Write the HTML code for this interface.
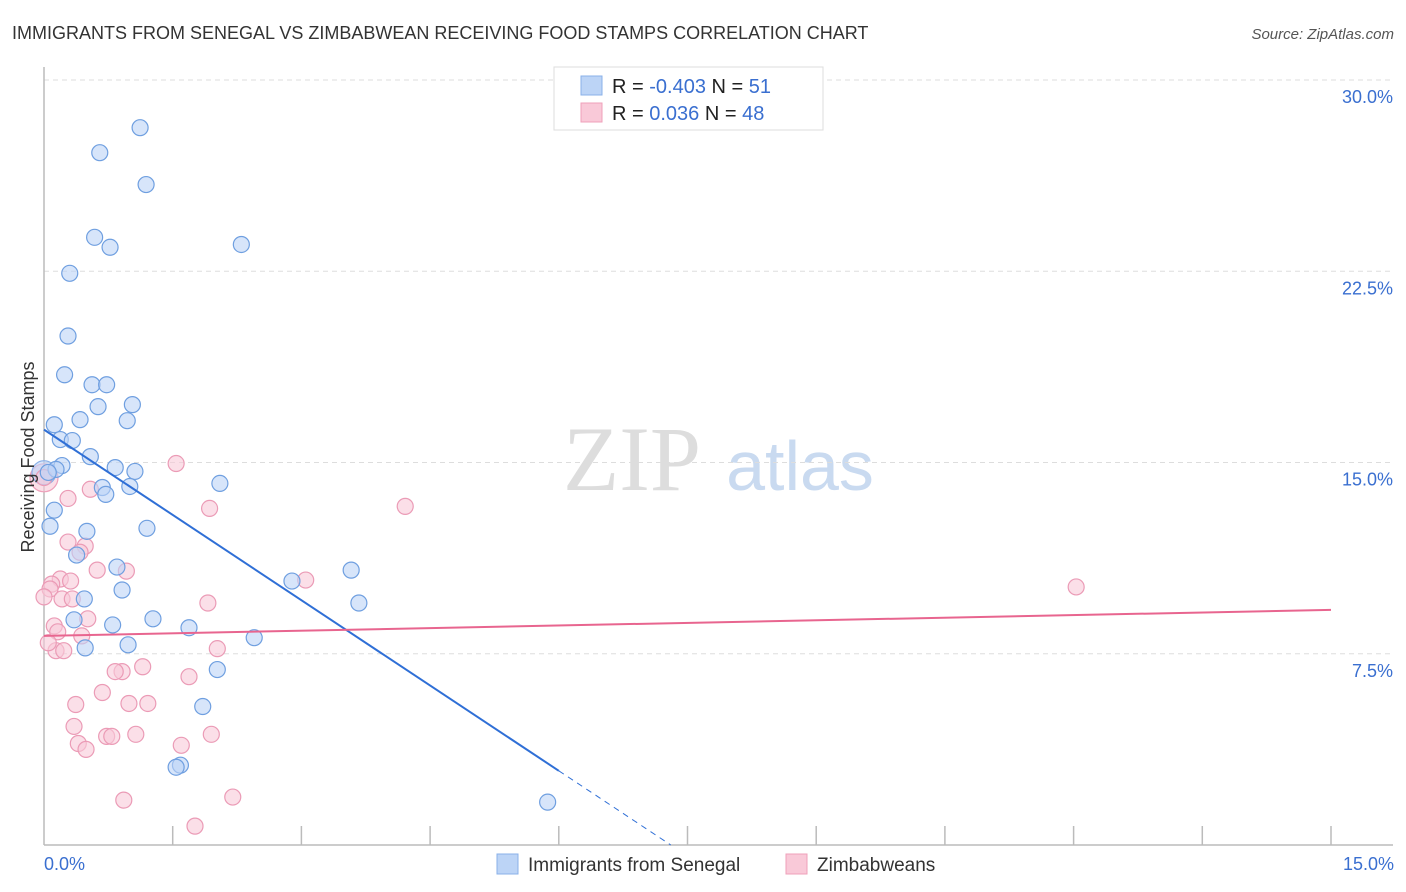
<!DOCTYPE html>
<html><head><meta charset="utf-8">
<style>
body{margin:0;background:#fff;font-family:"Liberation Sans",sans-serif;}
svg{display:block}
</style></head>
<body>
<svg id="chart" width="1406" height="892" viewBox="0 0 1406 892" xmlns="http://www.w3.org/2000/svg">
<text x="12" y="39" font-size="18" fill="#333">IMMIGRANTS FROM SENEGAL VS ZIMBABWEAN RECEIVING FOOD STAMPS CORRELATION CHART</text>
<text x="1394" y="39" font-size="15" fill="#555" font-style="italic" text-anchor="end">Source: ZipAtlas.com</text>
<g>
<text x="632" y="490" font-size="92" fill="#ddd" font-family="Liberation Serif,serif" text-anchor="middle">ZIP</text>
<text x="800" y="490" font-size="70" fill="#c9daf0" text-anchor="middle">atlas</text>
</g>
<g id="grid"></g>
<g id="axes"></g>
<g id="points"></g>
<g id="lines"></g>
<text transform="translate(34,457) rotate(-90)" font-size="18" fill="#333" text-anchor="middle">Receiving Food Stamps</text>
<g>
<rect x="554" y="67" width="269" height="63" fill="#fff" stroke="#ddd"/>
<rect x="581" y="76" width="21" height="19" fill="#bcd4f6" stroke="#8ab0e8"/>
<rect x="581" y="103" width="21" height="19" fill="#f9c9d8" stroke="#efa0ba"/>
<text x="612" y="93" font-size="20" fill="#222">R = <tspan fill="#3a6fd0">-0.403</tspan>   N = <tspan fill="#3a6fd0"> 51</tspan></text>
<text x="612" y="120" font-size="20" fill="#222">R = <tspan fill="#3a6fd0">  0.036</tspan>   N = <tspan fill="#3a6fd0">48</tspan></text>
</g>
<g>
<rect x="497" y="854" width="21" height="20" fill="#bcd4f6" stroke="#8ab0e8"/>
<text x="528" y="871" font-size="19" fill="#333">Immigrants from Senegal</text>
<rect x="786" y="854" width="21" height="20" fill="#f9c9d8" stroke="#efa0ba"/>
<text x="817" y="871" font-size="19" fill="#333">Zimbabweans</text>
</g>
</svg>
<script>
const yTicks=[7.5,15,22.5,30];
const yTickLabels=["7.5%","15.0%","22.5%","30.0%"];
const xTickCount=10;
const xLabels=["0.0%","15.0%"];
const blueX=[1.12,0.65,1.19,0.59,0.77,2.30,0.30,0.28,0.24,0.56,0.73,0.63,1.03,0.12,0.42,0.97,0.19,0.33,0.54,0.21,0.14,0.83,1.06,0.05,0.68,1.00,0.72,2.05,0.12,0.07,0.50,1.20,0.38,0.85,2.89,3.58,0.91,0.47,1.27,0.35,3.67,0.80,1.69,2.45,0.48,0.98,2.02,1.85,1.59,1.54,5.87];
const blueY=[28.13,27.15,25.90,23.83,23.44,23.55,22.42,19.96,18.44,18.05,18.05,17.19,17.27,16.48,16.68,16.64,15.90,15.86,15.23,14.88,14.73,14.80,14.65,14.61,14.02,14.06,13.75,14.18,13.13,12.50,12.30,12.42,11.37,10.90,10.35,10.78,10.00,9.65,8.87,8.83,9.49,8.63,8.52,8.13,7.73,7.85,6.88,5.43,3.13,3.05,1.68];
const pinkX=[1.54,4.21,12.03,0.28,0.54,1.93,0.28,0.48,0.42,0.62,0.96,0.19,0.31,0.09,0.07,3.05,0.21,0.33,1.91,0.51,0.12,0.16,0.44,0.14,0.23,2.02,0.91,0.83,1.15,1.69,0.68,0.37,0.99,1.21,0.35,0.40,0.49,0.73,0.79,1.07,1.60,1.95,0.93,2.20,1.76,0.00,0.00,0.05];
const pinkY=[14.96,13.28,10.12,13.59,13.95,13.20,11.88,11.72,11.48,10.78,10.74,10.43,10.35,10.23,10.04,10.39,9.65,9.65,9.49,8.87,8.59,8.36,8.20,7.62,7.62,7.70,6.80,6.80,6.99,6.60,5.98,5.51,5.55,5.55,4.65,3.98,3.75,4.26,4.26,4.34,3.91,4.34,1.76,1.88,0.74,14.41,9.73,7.93];
const blueTrend=[16.29,-2.23];
const pinkTrend=[8.20,0.068];
const bigBlue=[0,14.6];
const bigPink=[0,14.4];

const NS="http://www.w3.org/2000/svg";
const X0=44,X1=1331,Y0=845,Y30=80;
const sx=v=>X0+(X1-X0)*v/15;
const sy=v=>Y0-(Y0-Y30)*v/30;
function mk(tag,attrs,parent){const e=document.createElementNS(NS,tag);for(const k in attrs)e.setAttribute(k,attrs[k]);parent.appendChild(e);return e;}
const grid=document.getElementById('grid'),axes=document.getElementById('axes'),pts=document.getElementById('points'),lines=document.getElementById('lines');
yTicks.forEach((t,i)=>{
 const l=mk('line',{x1:X0,x2:1393,y1:sy(t),y2:sy(t),stroke:'#ddd','stroke-dasharray':'5,4'},grid);
 
 
 const tx=mk('text',{x:1393,y:sy(t)+23,'font-size':18,fill:'#3a6fd0','text-anchor':'end'},axes);
 tx.textContent=yTickLabels[i];
 
 
});
const ya=mk('line',{x1:X0,x2:X0,y1:67,y2:Y0,stroke:'#bbb','stroke-width':1.5},axes);


const xa=mk('line',{x1:X0,x2:1393,y1:Y0,y2:Y0,stroke:'#bbb','stroke-width':1.5},axes);


for(let i=1;i<=xTickCount;i++){
 const v=15*i/xTickCount;
 const t=mk('line',{x1:sx(v),x2:sx(v),y1:826,y2:Y0,stroke:'#bbb','stroke-width':1.5},axes);
 
 
}
const xl0=mk('text',{x:44,y:870,'font-size':18,fill:'#3a6fd0'},axes);xl0.textContent=xLabels[0];


const xl1=mk('text',{x:1394,y:870,'font-size':18,fill:'#3a6fd0','text-anchor':'end'},axes);xl1.textContent=xLabels[1];



function dot(x,y,r,fill,stroke,name){
 const c=mk('circle',{cx:sx(x),cy:sy(y),r:r,fill:fill,stroke:stroke,'stroke-width':1.2,'fill-opacity':0.6},pts);
 
 
}
dot(bigPink[0],bigPink[1],14,'#f9c9d8','#efa0ba','pink-point');
dot(bigBlue[0],bigBlue[1],12,'#bcd4f6','#8ab0e8','blue-point');
pinkX.forEach((x,i)=>dot(x,pinkY[i],8,'#f9c9d8','#eb9bb6','pink-point'));
blueX.forEach((x,i)=>dot(x,blueY[i],8,'#bcd4f6','#6f9fe0','blue-point'));

const bf=x=>blueTrend[0]+blueTrend[1]*x;
const bs=mk('line',{x1:sx(0),y1:sy(bf(0)),x2:sx(6),y2:sy(bf(6)),stroke:'#2f6fd6','stroke-width':2},lines);


const xEnd=-blueTrend[0]/blueTrend[1];
const bd=mk('line',{x1:sx(6),y1:sy(bf(6)),x2:sx(xEnd),y2:sy(0),stroke:'#2f6fd6','stroke-width':1,'stroke-dasharray':'6,5'},lines);


const pf=x=>pinkTrend[0]+pinkTrend[1]*x;
const pl=mk('line',{x1:sx(0),y1:sy(pf(0)),x2:sx(15),y2:sy(pf(15)),stroke:'#e8658f','stroke-width':2},lines);


</script>
</body></html>
